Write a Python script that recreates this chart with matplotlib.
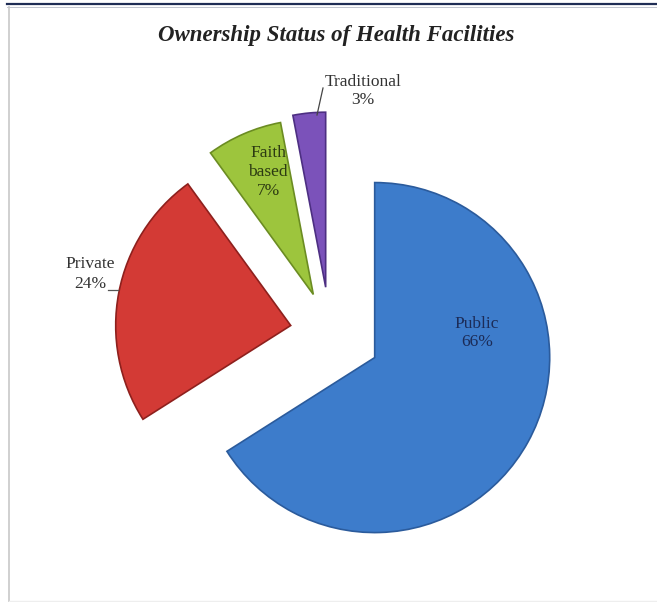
import matplotlib.pyplot as plt
from matplotlib.lines import Line2D

# Facility ownership shares (percent)
categories = ["Public", "Private", "Faith based", "Traditional"]
shares = [66, 24, 7, 3]
label_text = ["Public\n66%", "Private\n24%", "Faith\nbased\n7%", "Traditional\n3%"]

colors = ["#3d7ccb", "#d33a35", "#9dc53d", "#7b52ba"]
edge_colors = ["#2b5b9c", "#8e201d", "#6b8c22", "#4d2f82"]
explode = [51, 40, 42, 46]

W, H = 657, 602
fig = plt.figure(figsize=(W / 100, H / 100), dpi=100)
ax = fig.add_axes([0, 0, 1, 1])
ax.axis("off")

wedges, _ = ax.pie(shares, explode=explode, colors=colors, startangle=90,
                   counterclock=False, radius=175, center=(330, 269),
                   wedgeprops=dict(linewidth=1.2))
for w, ec in zip(wedges, edge_colors):
    w.set_edgecolor(ec)
ax.set_xlim(0, W)
ax.set_ylim(0, H)
ax.set_aspect("equal")

serif = "Liberation Serif"
ax.text(336, 567, "Ownership Status of Health Facilities", ha="center", va="center",
        fontsize=16.5, fontweight="bold", fontstyle="italic", family=serif, color="#222222")

# slice labels
lab = dict(ha="center", va="center", fontsize=12.5, family=serif, linespacing=1.25)
ax.text(477, 269, label_text[0], color="#1c2c58", **lab)
ax.text(268, 430, label_text[2], color="#2c3a12", **lab)
ax.text(90, 328, label_text[1], color="#333333", **lab)
ax.text(363, 511, label_text[3], color="#333333", **lab)

# leader lines
ax.plot([108, 118], [312, 312], color="#555555", lw=0.9)
ax.plot([317, 323], [487, 514], color="#444444", lw=0.9)

# frame around the chart
fig.add_artist(Line2D([7 / W, 1], [1 - 4 / H, 1 - 4 / H], color="#1f2d55", lw=1.6))
fig.add_artist(Line2D([7 / W, 1], [1 - 7 / H, 1 - 7 / H], color="#b8bcc8", lw=0.6))
fig.add_artist(Line2D([9 / W, 9 / W], [0, 1 - 7 / H], color="#c8c8c8", lw=1.2))
fig.add_artist(Line2D([9 / W, 1], [1.5 / H, 1.5 / H], color="#eeeeee", lw=1.0))

fig.savefig("out.png", dpi=100)
